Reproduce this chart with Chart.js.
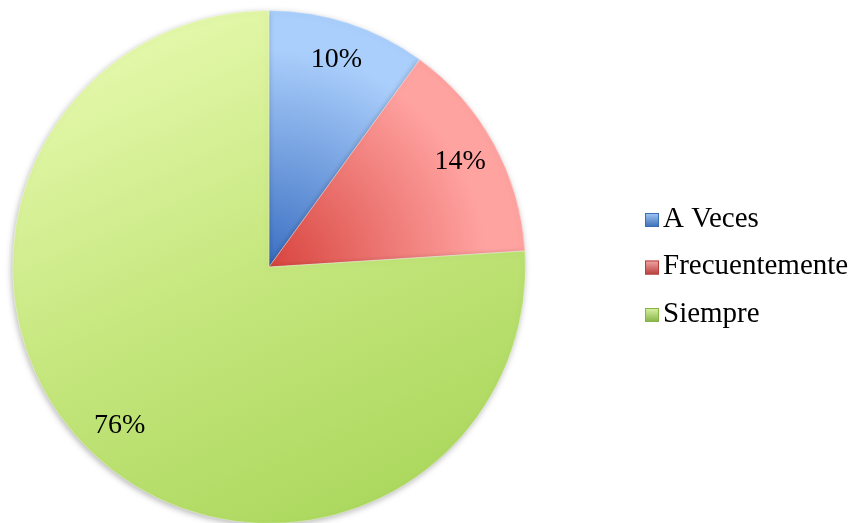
<!DOCTYPE html>
<html>
<head>
<meta charset="utf-8">
<script src="https://cdn.jsdelivr.net/npm/chart.js@4"></script>
<style>
  html, body { margin: 0; padding: 0; background: #ffffff; }
  #wrap { width: 859px; height: 523px; }
</style>
</head>
<body>
<div id="wrap"><canvas id="myChart"></canvas></div>
<script>
// Data
const categories = ['A Veces', 'Frecuentemente', 'Siempre'];
const percents = [10, 14, 76];
const labelTexts = ['10%', '14%', '76%'];

// Colours (inner / outer of each slice, legend swatch top / bottom)
const INNER = ['#3b6fc2', '#d8443e', '#acd85e'];
const OUTER = ['#abcffc', '#ffa3a1', '#e8fab0'];
const SWATCH_TOP = ['#a3c8f4', '#f3a7a5', '#dcf2a6'];
const SWATCH_BOT = ['#3a6db5', '#b83f3c', '#86b446'];

const FONT = "'Liberation Serif', 'DejaVu Serif', serif";

function sliceFill(ctx) {
    const chart = ctx.chart;
    const i = ctx.dataIndex;
    const area = chart.chartArea;
    if (!area) return INNER[i];
    const cx = (area.left + area.right) / 2;
    const cy = (area.top + area.bottom) / 2;
    const r = Math.min(area.right - area.left, area.bottom - area.top) / 2;
    let g;
    if (i === 2) {
        g = chart.ctx.createLinearGradient(cx - r * 0.6, cy - r, cx + r * 0.3, cy + r);
        g.addColorStop(0, OUTER[i]);
        g.addColorStop(0.55, '#c4e67c');
        g.addColorStop(1, INNER[i]);
    } else {
        g = chart.ctx.createRadialGradient(cx, cy, 0, cx, cy, r);
        g.addColorStop(0, INNER[i]);
        g.addColorStop(0.85, OUTER[i]);
        g.addColorStop(1, OUTER[i]);
    }
    return g;
}

// put the pie where the reference has it
const placePie = {
    id: 'placePie',
    afterLayout(chart) {
        const a = chart.chartArea;
        a.left = 12; a.right = 526; a.top = 10; a.bottom = 524;
        a.width = a.right - a.left; a.height = a.bottom - a.top;
    }
};

const pieShadow = {
    id: 'pieShadow',
    beforeDatasetsDraw(chart) {
        const ctx = chart.ctx;
        ctx.save();
        ctx.shadowColor = 'rgba(0,0,0,0.28)';
        ctx.shadowBlur = 6;
        ctx.shadowOffsetX = -1;
        ctx.shadowOffsetY = 2;
    },
    afterDatasetsDraw(chart) {
        chart.ctx.restore();
    }
};

const sliceLabels = {
    id: 'sliceLabels',
    afterDatasetsDraw(chart) {
        const ctx = chart.ctx;
        const meta = chart.getDatasetMeta(0);
        ctx.save();
        ctx.font = '28px ' + FONT;
        ctx.fillStyle = '#000000';
        ctx.textAlign = 'center';
        ctx.textBaseline = 'middle';
        meta.data.forEach((arc, i) => {
            const p = arc.getProps(['x', 'y', 'startAngle', 'endAngle', 'outerRadius']);
            const mid = (p.startAngle + p.endAngle) / 2;
            const d = p.outerRadius * 0.85;
            ctx.fillText(labelTexts[i], p.x + Math.cos(mid) * d, p.y + Math.sin(mid) * d);
        });
        ctx.restore();
    }
};

// legend drawn by hand so the swatch/text gap matches
const sideLegend = {
    id: 'sideLegend',
    afterDraw(chart) {
        const ctx = chart.ctx;
        const x = 645, size = 14, top = 213, step = 47.5;
        ctx.save();
        ctx.font = '29px ' + FONT;
        ctx.textBaseline = 'middle';
        ctx.textAlign = 'left';
        categories.forEach((c, i) => {
            const y = top + i * step;
            const g = ctx.createLinearGradient(0, y, 0, y + size);
            g.addColorStop(0, SWATCH_TOP[i]);
            g.addColorStop(1, SWATCH_BOT[i]);
            ctx.fillStyle = g;
            ctx.fillRect(x, y, size, size);
            ctx.strokeStyle = SWATCH_BOT[i];
            ctx.lineWidth = 1;
            ctx.strokeRect(x + 0.5, y + 0.5, size - 1, size - 1);
            ctx.fillStyle = '#000000';
            ctx.fillText(c, x + size + 4, y + size / 2 - 1);
        });
        ctx.restore();
    }
};

const config = {
    type: 'pie',
    data: {
        labels: categories,
        datasets: [{
            data: percents,
            backgroundColor: sliceFill,
            borderColor: 'rgba(255,255,255,0.35)',
            borderWidth: 1
        }]
    },
    options: {
        responsive: true,
        maintainAspectRatio: false,
        animation: false,
        plugins: {
            legend: { display: false },
            tooltip: { enabled: false }
        }
    },
    plugins: [placePie, pieShadow, sliceLabels, sideLegend]
};

const myChart = new Chart(document.getElementById('myChart'), config);
</script>
</body>
</html>
